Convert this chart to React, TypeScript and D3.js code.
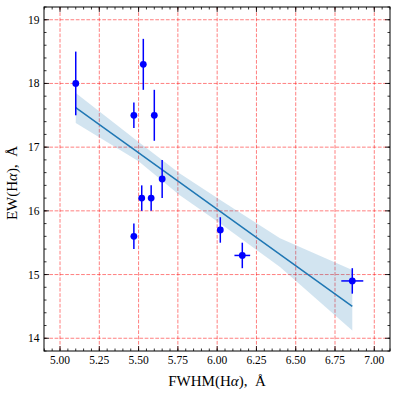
import React from 'react'
import * as d3 from 'd3'

// measurements: FWHM(Hα) vs EW(Hα)
const fwhm = [5.10, 5.47, 5.53, 5.60, 5.65, 5.52, 5.58, 5.47, 6.02, 6.16, 6.86]
const fwhmErr = [0, 0, 0, 0, 0, 0, 0, 0, 0, 0.05, 0.07]
const ew = [18.0, 17.5, 18.3, 17.5, 16.5, 16.2, 16.2, 15.6, 15.7, 15.3, 14.9]
const ewErr = [0.5, 0.2, 0.4, 0.4, 0.3, 0.2, 0.2, 0.2, 0.2, 0.2, 0.2]

// linear fit and its confidence band
const fitX = [5.10, 6.86]
const fitY = [17.62, 14.50]
const bandX = [5.10, 5.50, 5.76, 6.02, 6.40, 6.86]
const bandUpper = [17.85, 17.08, 16.59, 16.17, 15.57, 15.07]
const bandLower = [17.38, 16.78, 16.25, 15.80, 15.12, 14.12]

const xTicks = [5.0, 5.25, 5.5, 5.75, 6.0, 6.25, 6.5, 6.75, 7.0]
const yTicks = [14, 15, 16, 17, 18, 19]

const W = 398
const H = 395
const margin = { left: 44, right: 8, top: 7, bottom: 44 }
const font = '"Liberation Serif", "DejaVu Serif", serif'

export default function App() {
    const x = d3.scaleLinear().domain([4.898, 7.1]).range([margin.left, W - margin.right])
    const y = d3.scaleLinear().domain([13.8, 19.2]).range([H - margin.bottom, margin.top])
    const [x0, x1] = x.range()
    const [y0, y1] = y.range()

    const xMinor = d3.range(4.9, 7.1001, 0.05).map(v => +v.toFixed(2))
    const yMinor = d3.range(13.8, 19.2001, 0.2).map(v => +v.toFixed(1))

    const band = d3.area<number>()
        .x((d, i) => x(bandX[i]))
        .y0((d, i) => y(bandLower[i]))
        .y1(d => y(d))
    const line = d3.line<number>()
        .x((d, i) => x(fitX[i]))
        .y(d => y(d))

    const grid = { stroke: '#ff0000', strokeOpacity: 0.5, strokeWidth: 1, strokeDasharray: '3.7,1.6' }

    return (
        <svg width={W} height={H} style={{ position: 'absolute', left: 0, top: 0, background: '#fff' }}>
            <rect x={0} y={0} width={W} height={H} fill="#fff" />
            {/* grid */}
            {xTicks.map(t => <line key={'gx' + t} x1={x(t)} x2={x(t)} y1={y1} y2={y0} {...grid} />)}
            {yTicks.map(t => <line key={'gy' + t} x1={x0} x2={x1} y1={y(t)} y2={y(t)} {...grid} />)}

            {/* fit band + line */}
            <path d={band(bandUpper) || ''} fill="#1f77b4" fillOpacity={0.2} />
            <path d={line(fitY) || ''} fill="none" stroke="#1f77b4" strokeWidth={1.5} />

            {/* error bars */}
            {fwhm.map((v, i) => (
                <g key={'p' + i} stroke="#0000ff" strokeWidth={1.5}>
                    <line x1={x(v)} x2={x(v)} y1={y(ew[i] - ewErr[i])} y2={y(ew[i] + ewErr[i])} />
                    {fwhmErr[i] > 0 && (
                        <line x1={x(v - fwhmErr[i])} x2={x(v + fwhmErr[i])} y1={y(ew[i])} y2={y(ew[i])} />
                    )}
                    <circle cx={x(v)} cy={y(ew[i])} r={3.4} fill="#0000ff" stroke="none" />
                </g>
            ))}

            {/* ticks, all four sides, inward */}
            <g stroke="#000" strokeWidth={0.8}>
                {xMinor.map(t => (
                    <g key={'xm' + t}>
                        <line x1={x(t)} x2={x(t)} y1={y0} y2={y0 - 2.5} />
                        <line x1={x(t)} x2={x(t)} y1={y1} y2={y1 + 2.5} />
                    </g>
                ))}
                {yMinor.map(t => (
                    <g key={'ym' + t}>
                        <line x1={x0} x2={x0 + 2.5} y1={y(t)} y2={y(t)} />
                        <line x1={x1} x2={x1 - 2.5} y1={y(t)} y2={y(t)} />
                    </g>
                ))}
                {xTicks.map(t => (
                    <g key={'xM' + t}>
                        <line x1={x(t)} x2={x(t)} y1={y0} y2={y0 - 5} />
                        <line x1={x(t)} x2={x(t)} y1={y1} y2={y1 + 5} />
                    </g>
                ))}
                {yTicks.map(t => (
                    <g key={'yM' + t}>
                        <line x1={x0} x2={x0 + 5} y1={y(t)} y2={y(t)} />
                        <line x1={x1} x2={x1 - 5} y1={y(t)} y2={y(t)} />
                    </g>
                ))}
            </g>
            <rect x={x0} y={y1} width={x1 - x0} height={y0 - y1} fill="none" stroke="#000" strokeWidth={1} />

            {/* tick labels */}
            <g fontFamily={font} fontSize={11.5} fill="#000">
                {xTicks.map(t => (
                    <text key={'xl' + t} x={x(t)} y={y0 + 13} textAnchor="middle">{t.toFixed(2)}</text>
                ))}
                {yTicks.map(t => (
                    <text key={'yl' + t} x={x0 - 4.5} y={y(t) + 4} textAnchor="end">{t}</text>
                ))}
            </g>

            {/* axis labels */}
            <text x={(x0 + x1) / 2} y={386} textAnchor="middle" fontFamily={font} fontSize={15} fill="#000">
                FWHM(H<tspan fontStyle="italic">α</tspan>),{'\u2002'}Å
            </text>
            <text transform={`translate(17,${(y0 + y1) / 2 + 4}) rotate(-90)`} textAnchor="middle" fontFamily={font} fontSize={15} fill="#000">
                EW(H<tspan fontStyle="italic">α</tspan>),{'\u2002'}Å
            </text>
        </svg>
    )
}
